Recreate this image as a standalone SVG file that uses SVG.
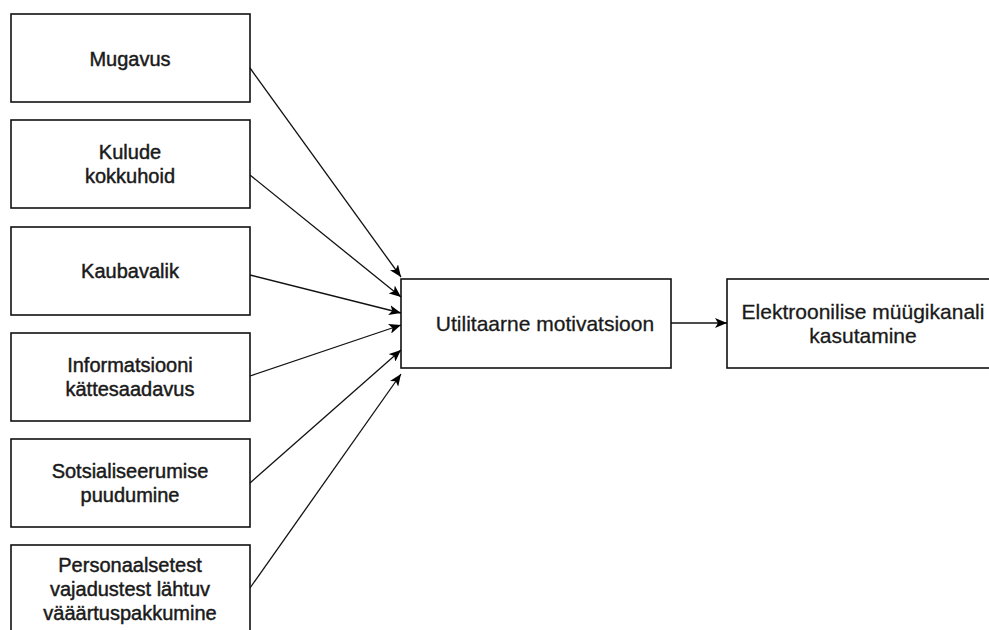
<svg xmlns="http://www.w3.org/2000/svg" width="989" height="630" viewBox="0 0 989 630">
<style>
.box{fill:#fff;stroke:#111;stroke-width:1.6}
.t{font-family:"Liberation Sans",Arial,sans-serif;font-size:20px;fill:#1a1a1a;stroke:#1a1a1a;stroke-width:0.45;text-anchor:middle}
.tm{font-family:"Liberation Sans",Arial,sans-serif;font-size:21px;fill:#1a1a1a;stroke:#1a1a1a;stroke-width:0.3;text-anchor:middle}
.c{stroke:#111;stroke-width:1.3;fill:none;marker-end:url(#ah)}
</style>
<defs>
<marker id="ah" viewBox="0 0 12 10" refX="12" refY="5" markerWidth="12" markerHeight="10" markerUnits="userSpaceOnUse" orient="auto">
<path d="M0,0 L12,5 L0,10 L3,5 Z" fill="#000"/>
</marker>
</defs>
<rect width="989" height="630" fill="#fff"/>
<g id="n1"><rect class="box" x="11" y="14" width="239" height="88"/><text class="t" x="130" y="66">Mugavus</text></g>
<g id="n2"><rect class="box" x="11" y="120" width="239" height="88"/><text class="t" x="130" y="159">Kulude</text><text class="t" x="130" y="183">kokkuhoid</text></g>
<g id="n3"><rect class="box" x="11" y="227" width="239" height="88"/><text class="t" x="130" y="278">Kaubavalik</text></g>
<g id="n4"><rect class="box" x="11" y="333" width="239" height="88"/><text class="t" x="130" y="372">Informatsiooni</text><text class="t" x="130" y="396">kättesaadavus</text></g>
<g id="n5"><rect class="box" x="11" y="439" width="239" height="88"/><text class="t" x="130" y="478">Sotsialiseerumise</text><text class="t" x="130" y="502">puudumine</text></g>
<g id="n6"><rect class="box" x="11" y="545" width="239" height="95"/><text class="t" x="130" y="572">Personaalsetest</text><text class="t" x="130" y="596">vajadustest lähtuv</text><text class="t" x="130" y="620">vääärtuspakkumine</text></g>
<g id="n7"><rect class="box" x="401" y="279" width="270" height="89"/><text class="tm" x="545" y="331">Utilitaarne motivatsioon</text></g>
<g id="n8"><rect class="box" x="727" y="279" width="272" height="89"/><text class="tm" x="863" y="319">Elektroonilise müügikanali</text><text class="tm" x="863" y="343">kasutamine</text></g>
<g id="connectors">
<path class="c" d="M250,68 L401,277"/>
<path class="c" d="M250,175 L401,297"/>
<path class="c" d="M250,275 L401,313"/>
<path class="c" d="M250,376 L401,325"/>
<path class="c" d="M250,483 L401,350"/>
<path class="c" d="M250,588 L401,374"/>
<path class="c" d="M671,323 L727,323"/>
</g>
</svg>
